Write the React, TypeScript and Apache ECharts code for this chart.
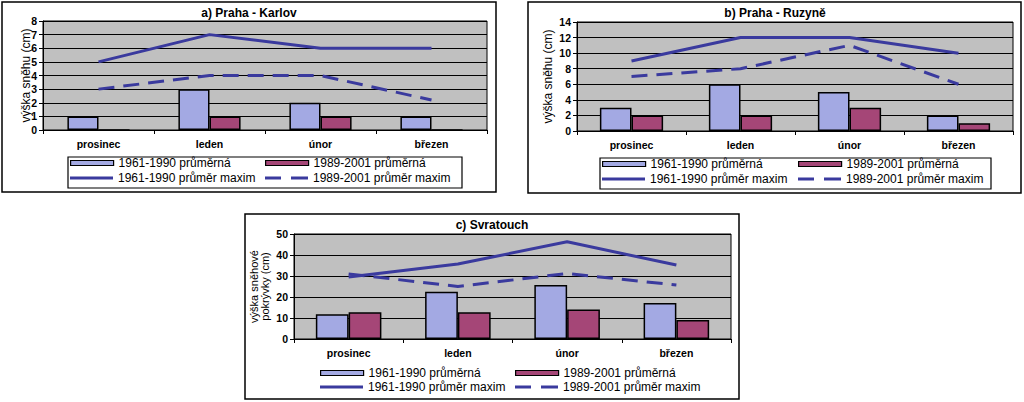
import React, { useEffect, useRef } from "react";
import * as echarts from "echarts";

const categories = ["prosinec", "leden", "únor", "březen"];
const seriesNames = [
  "1961-1990 průměrná",
  "1989-2001 průměrná",
  "1961-1990 průměr maxim",
  "1989-2001 průměr maxim",
];

// a) Praha - Karlov
const karlovAvg6190 = [1, 3, 2, 1];
const karlovAvg8901 = [0, 1, 1, 0];
const karlovMax6190 = [5, 7, 6, 6];
const karlovMax8901 = [3, 4, 4, 2.2];

// b) Praha - Ruzyně
const ruzyneAvg6190 = [3, 6, 5, 2];
const ruzyneAvg8901 = [2, 2, 3, 1];
const ruzyneMax6190 = [9, 12, 12, 10];
const ruzyneMax8901 = [7, 8, 11, 6];

// c) Svratouch
const svratAvg6190 = [11.8, 22.5, 25.7, 17.1];
const svratAvg8901 = [12.7, 12.7, 14.1, 9];
const svratMax6190 = [29.5, 35.7, 46.3, 35.2];
const svratMax8901 = [31, 25, 31.2, 25.7];

const titles = ["a) Praha - Karlov", "b) Praha - Ruzyně", "c) Svratouch"];
const yNames = ["výška sněhu (cm)", "výška sněhu (cm)", "výška sněhové\npokrývky (cm)"];
const yMax = [8, 14, 50];
const yInterval = [1, 2, 10];

const FONT = "'Liberation Sans', Arial, sans-serif";
const BAR1 = "#a3a9e3";
const BAR2 = "#a54677";
const LINE = "#3a3a9e";
const PLOT_BG = "#c0c0c0";
const DASH_ICON = "path://M0 0H16V3H0Z M26 0H43V3H26Z";

const panels = [
  {
    data: [karlovAvg6190, karlovAvg8901, karlovMax6190, karlovMax8901],
    grid: { left: 43, top: 21, width: 444, height: 109 },
    frame: { x: 2, y: 2, width: 494, height: 190 },
    titleX: 249, titleTop: 7,
    nameGap: 12,
    gap: "44%",
    legendCols: [70, 265], legendRows: [163, 178],
    legendBox: { x: 68, y: 157, width: 394, height: 31 },
  },
  {
    data: [ruzyneAvg6190, ruzyneAvg8901, ruzyneMax6190, ruzyneMax8901],
    grid: { left: 577, top: 22, width: 436, height: 109 },
    frame: { x: 528, y: 2, width: 493, height: 191 },
    titleX: 775, titleTop: 7,
    nameGap: 24,
    gap: "42%",
    legendCols: [602, 798], legendRows: [164, 179],
    legendBox: { x: 600, y: 158, width: 391, height: 31 },
  },
  {
    data: [svratAvg6190, svratAvg8901, svratMax6190, svratMax8901],
    grid: { left: 294, top: 234, width: 437, height: 105 },
    frame: { x: 245, y: 214, width: 494, height: 185 },
    titleX: 492, titleTop: 219,
    nameGap: 24,
    gap: "40%",
    legendCols: [320, 515], legendRows: [373, 387],
    legendBox: null as null | { x: number; y: number; width: number; height: number },
  },
];

function buildOption() {
  const grid: any[] = [];
  const xAxis: any[] = [];
  const yAxis: any[] = [];
  const series: any[] = [];
  const title: any[] = [];
  const legend: any[] = [];
  const graphic: any[] = [];

  panels.forEach((p, i) => {
    grid.push({
      ...p.grid,
      show: true,
      backgroundColor: PLOT_BG,
      borderColor: "#000",
      borderWidth: 1,
      containLabel: false,
    });
    xAxis.push({
      type: "category",
      gridIndex: i,
      data: categories,
      boundaryGap: true,
      axisLine: { show: true, lineStyle: { color: "#000", width: 1 } },
      axisTick: { show: true, length: 4, inside: false, alignWithLabel: false, lineStyle: { color: "#000" } },
      axisLabel: { margin: 8, color: "#000", fontSize: 10.5, fontWeight: "bold", fontFamily: FONT },
      splitLine: { show: false },
    });
    yAxis.push({
      type: "value",
      gridIndex: i,
      min: 0,
      max: yMax[i],
      interval: yInterval[i],
      name: yNames[i],
      nameLocation: "middle",
      nameRotate: 90,
      nameGap: p.nameGap,
      nameMoveOverlap: false,
      nameTextStyle: {
        color: "#000",
        fontSize: i === 2 ? 11 : 12,
        lineHeight: 11,
        fontFamily: FONT,
      },
      axisLine: { show: true, lineStyle: { color: "#000", width: 1 } },
      axisTick: { show: true, length: 4, inside: false, lineStyle: { color: "#000" } },
      axisLabel: { margin: 6, color: "#000", fontSize: 10.5, fontWeight: "bold", fontFamily: FONT },
      splitLine: { show: true, lineStyle: { color: "#000", width: 1 } },
    });

    const [a1, a2, m1, m2] = p.data;
    series.push(
      {
        name: seriesNames[0],
        type: "bar",
        xAxisIndex: i,
        yAxisIndex: i,
        data: a1,
        barGap: "0%",
        barCategoryGap: p.gap,
        itemStyle: { color: BAR1, borderColor: "#000", borderWidth: 1.5 },
      },
      {
        name: seriesNames[1],
        type: "bar",
        xAxisIndex: i,
        yAxisIndex: i,
        data: a2,
        barGap: "0%",
        barCategoryGap: p.gap,
        itemStyle: { color: BAR2, borderColor: "#000", borderWidth: 1.5 },
      },
      {
        name: seriesNames[2],
        type: "line",
        xAxisIndex: i,
        yAxisIndex: i,
        data: m1,
        symbol: "none",
        lineStyle: { color: LINE, width: 3, type: "solid" },
        itemStyle: { color: LINE },
        z: 5,
      },
      {
        name: seriesNames[3],
        type: "line",
        xAxisIndex: i,
        yAxisIndex: i,
        data: m2,
        symbol: "none",
        lineStyle: { color: LINE, width: 3, type: [16, 9] },
        itemStyle: { color: LINE },
        z: 5,
      }
    );

    title.push({
      text: titles[i],
      left: p.titleX,
      top: p.titleTop,
      textAlign: "center",
      padding: 0,
      textStyle: { color: "#000", fontSize: 12, fontWeight: "bold", fontFamily: FONT },
    });

    const order: [number, number, number][] = [
      [0, 0, 0],
      [1, 1, 0],
      [2, 0, 1],
      [3, 1, 1],
    ];
    order.forEach(([si, col, row]) => {
      const isBar = si < 2;
      legend.push({
        data: [{ name: seriesNames[si], icon: isBar ? "rect" : si === 2 ? "rect" : DASH_ICON }],
        left: p.legendCols[col],
        top: p.legendRows[row] - 7,
        padding: 0,
        itemWidth: 43,
        itemHeight: isBar ? 5 : 3,
        itemGap: 0,
        selectedMode: false,
        itemStyle: isBar
          ? { borderColor: "#000", borderWidth: 1.2 }
          : { color: LINE, borderWidth: 0 },
        textStyle: { color: "#000", fontSize: 12, lineHeight: 14, fontFamily: FONT },
      });
    });

    graphic.push({
      type: "rect",
      shape: { ...p.frame },
      style: { fill: "none", stroke: "#000", lineWidth: 1.5 },
      silent: true,
      z: 0,
    });
    if (p.legendBox) {
      graphic.push({
        type: "rect",
        shape: { ...p.legendBox },
        style: { fill: "none", stroke: "#000", lineWidth: 1.2 },
        silent: true,
        z: 0,
      });
    }
  });

  return {
    animation: false,
    backgroundColor: "#fff",
    grid,
    xAxis,
    yAxis,
    series,
    title,
    legend,
    graphic,
  };
}

export default function App() {
  const ref = useRef<HTMLDivElement>(null);
  useEffect(() => {
    if (!ref.current) return;
    const chart = echarts.init(ref.current, undefined, { renderer: "svg" });
    chart.setOption(buildOption() as any);
    return () => chart.dispose();
  }, []);
  return (
    <div
      ref={ref}
      style={{ position: "absolute", left: 0, top: 0, width: 1024, height: 402 }}
    />
  );
}
